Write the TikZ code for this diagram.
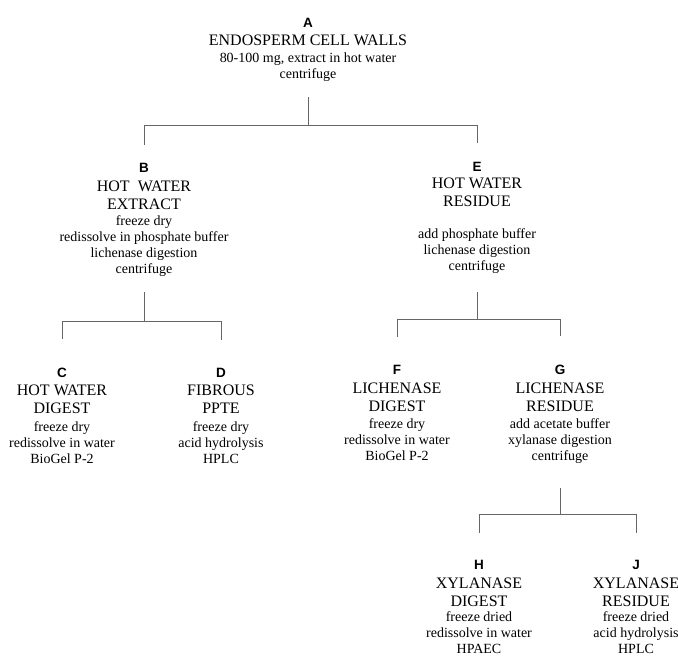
\documentclass[tikz,border=0pt]{standalone}
\usepackage{fontspec}
\setmainfont{Liberation Serif}
\newfontfamily\letterfont{Liberation Sans}
\usetikzlibrary{positioning}

% multi-line nodes sit on the baseline of their last line
\tikzset{
  letter/.style={anchor=base, inner sep=0pt, font=\letterfont\bfseries\fontsize{13.5}{15}\selectfont},
  title/.style={anchor=base, inner sep=0pt, align=center, font=\fontsize{16}{18}\selectfont},
  detail/.style={anchor=base, inner sep=0pt, align=center, font=\fontsize{14}{16}\selectfont},
  tree/.style={draw=black!60, line width=0.8pt},
}

\begin{document}
\begin{tikzpicture}[x=1pt, y=-1pt]
    \path[use as bounding box] (0,0) rectangle (678,657);

    % A
    \node[letter] (lA) at (308,27) {A};
    \node[title]  (A)  at (308,45) {ENDOSPERM CELL WALLS};
    \node[detail] (dA) at (308,78) {80-100 mg, extract in hot water\\centrifuge};

    % B and E
    \node[letter] (lB) at (144,172) {B};
    \node[title]  (B)  at (144,209) {HOT\enspace WATER\\EXTRACT};
    \node[detail] (dB) at (144,273) {freeze dry\\redissolve in phosphate buffer\\lichenase digestion\\centrifuge};

    \node[letter] (lE) at (477,171) {E};
    \node[title]  (E)  at (477,206) {HOT WATER\\RESIDUE};
    \node[detail] (dE) at (477,270) {add phosphate buffer\\lichenase digestion\\centrifuge};

    % C, D, F, G
    \node[letter] (lC) at (62,377) {C};
    \node[title]  (C)  at (62,413) {HOT WATER\\DIGEST};
    \node[detail] (dC) at (62,463) {freeze dry\\redissolve in water\\BioGel P-2};

    \node[letter] (lD) at (221,377) {D};
    \node[title]  (D)  at (221,413) {FIBROUS\\PPTE};
    \node[detail] (dD) at (221,463) {freeze dry\\acid hydrolysis\\HPLC};

    \node[letter] (lF) at (397,374) {F};
    \node[title]  (F)  at (397,411) {LICHENASE\\DIGEST};
    \node[detail] (dF) at (397,460) {freeze dry\\redissolve in water\\BioGel P-2};

    \node[letter] (lG) at (560,374) {G};
    \node[title]  (G)  at (560,411) {LICHENASE\\RESIDUE};
    \node[detail] (dG) at (560,460) {add acetate buffer\\xylanase digestion\\centrifuge};

    % H, J
    \node[letter] (lH) at (479,569) {H};
    \node[title]  (H)  at (479,606) {XYLANASE\\DIGEST};
    \node[detail] (dH) at (479,653) {freeze dried\\redissolve in water\\HPAEC};

    \node[letter] (lJ) at (636,569) {J};
    \node[title]  (J)  at (636,606) {XYLANASE\\RESIDUE};
    \node[detail] (dJ) at (636,653) {freeze dried\\acid hydrolysis\\HPLC};

    % tree lines
    \coordinate (jA) at (308,125);
    \draw[tree, shorten <=16pt] (dA) -- (jA);
    \draw[tree, shorten >=18pt] (jA) -| (lB);
    \draw[tree, shorten >=19pt] (jA) -| (lE);

    \coordinate (jB) at (144,321);
    \draw[tree, shorten <=16pt] (dB) -- (jB);
    \draw[tree, shorten >=28pt] (jB) -| (lC);
    \draw[tree, shorten >=28pt] (jB) -| (lD);

    \coordinate (jE) at (477,319);
    \draw[tree, shorten <=19pt] (dE) -- (jE);
    \draw[tree, shorten >=28pt] (jE) -| (lF);
    \draw[tree, shorten >=28pt] (jE) -| (lG);

    \coordinate (jG) at (560,514);
    \draw[tree, shorten <=25pt] (dG) -- (jG);
    \draw[tree, shorten >=27pt] (jG) -| (lH);
    \draw[tree, shorten >=27pt] (jG) -| (lJ);
\end{tikzpicture}
\end{document}
